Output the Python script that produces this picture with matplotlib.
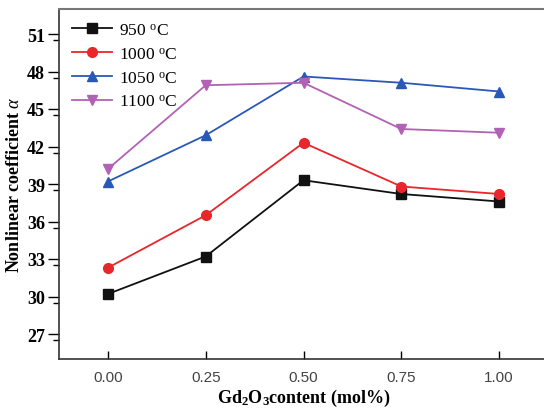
import matplotlib
matplotlib.use("Agg")
import matplotlib.pyplot as plt

x = [0.00, 0.25, 0.50, 0.75, 1.00]
s950 = [30.2, 33.2, 39.3, 38.2, 37.6]
s1000 = [32.3, 36.5, 42.3, 38.8, 38.2]
s1050 = [39.2, 42.9, 47.6, 47.1, 46.4]
s1100 = [40.2, 46.9, 47.1, 43.4, 43.1]
labels = ["950 $^{\\mathrm{o}}$C", "1000 $^{\\mathrm{o}}$C", "1050 $^{\\mathrm{o}}$C", "1100 $^{\\mathrm{o}}$C"]
xticks = [0.00, 0.25, 0.50, 0.75, 1.00]
yticks = [27, 30, 33, 36, 39, 42, 45, 48, 51]

plt.rcParams['mathtext.fontset'] = 'custom'
plt.rcParams['mathtext.rm'] = 'Liberation Serif'
plt.rcParams['mathtext.it'] = 'Liberation Serif:italic'
plt.rcParams['mathtext.bf'] = 'Liberation Serif:bold'

W, H = 544, 410
fig = plt.figure(figsize=(W/100, H/100), dpi=100)
ax = fig.add_axes([59/W, 1-360/H, (548-59)/W, (360-10)/H])

series = [s950, s1000, s1050, s1100]
colors = ['#111111', '#e8262b', '#2a58b8', '#b262b4']
markers = ['s', 'o', '^', 'v']
for s, c, m, l in zip(series, colors, markers, labels):
    ax.plot(x, s, color=c, marker=m, markersize=7, linewidth=1.3, label=l)

ax.set_xlim(-0.125, 1.125)
ax.set_ylim(25, 53)
ax.set_xticks(xticks)
ax.set_xticklabels([f"{v:.2f}" for v in xticks], fontfamily='Liberation Sans', fontsize=11, color='#444444')
ax.set_yticks(yticks)
ax.set_yticklabels([str(v) for v in yticks], fontfamily='Liberation Serif', fontweight='bold', fontsize=13)
ax.set_yticks([y + 1.5 for y in range(25, 52, 3)], minor=True)
ax.tick_params(axis='y', which='major', direction='out', length=8, width=1, pad=2)
ax.tick_params(axis='y', which='minor', direction='out', length=4, width=1)
ax.tick_params(axis='x', which='major', direction='in', length=6, width=1, pad=8)

for sp in ['left', 'bottom']:
    ax.spines[sp].set_color('#333333')
    ax.spines[sp].set_linewidth(1.2)
ax.spines['top'].set_color('#777777')
ax.spines['top'].set_linewidth(1.5)
ax.spines['right'].set_visible(False)

ax.set_xlabel("Gd$_{\\mathbf{2}}$O$_{\\mathbf{3}}$content (mol%)", fontfamily='Liberation Serif',
              fontweight='bold', fontsize=13, labelpad=2)
ax.set_ylabel("Nonlinear coefficient $\\alpha$", fontfamily='Liberation Serif',
              fontweight='bold', fontsize=13, labelpad=3)

leg = ax.legend(loc='upper left', frameon=False, prop={'family': 'Liberation Serif', 'size': 12.5},
                handlelength=2.3, borderaxespad=0.35, labelspacing=0.45, handletextpad=0.4)

fig.savefig("out.png", dpi=100)
